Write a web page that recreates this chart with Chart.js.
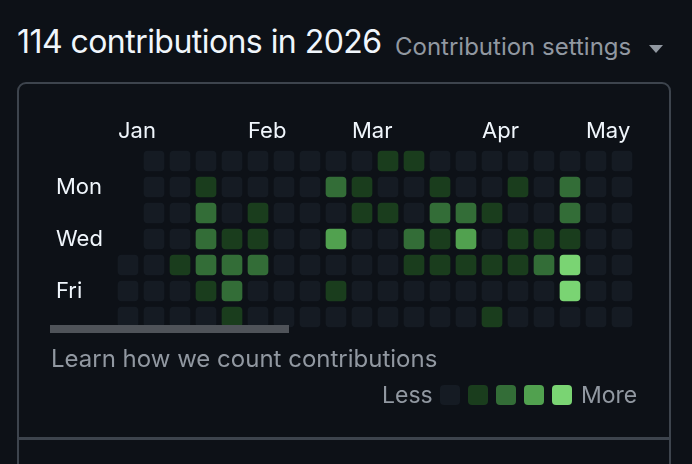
<!DOCTYPE html>
<html>
<head>
<meta charset="utf-8">
<script src="https://cdn.jsdelivr.net/npm/chart.js@4.4.1/dist/chart.umd.min.js"></script>
<style>
  html, body { margin: 0; padding: 0; }
  body { width: 692px; height: 464px; background: #0d1117; overflow: hidden; position: relative; font-family: Inter, "Noto Sans", sans-serif; }
  .abs { position: absolute; white-space: nowrap; line-height: 1; }
  #title { left: 17px; top: 26px; font-size: 32px; letter-spacing: -0.55px; color: #f0f6fc; }
  #settings { left: 395px; top: 35px; font-size: 24px; color: #9198a1; }
  #caret { left: 649px; top: 45px; width: 0; height: 0; border-left: 7px solid transparent; border-right: 7px solid transparent; border-top: 8px solid #9198a1; }
  #box { left: 17px; top: 82px; width: 650px; height: 420px; border: 2px solid #3d444d; border-radius: 9px; }
  #divider { left: 17px; top: 437px; width: 654px; height: 3px; background: #3d444d; }
  #chart { position: absolute; left: 0; top: 0; }
  #scroll { left: 50px; top: 325px; width: 239px; height: 8px; background: #4f5359; }
  #learn { left: 51px; top: 347px; font-size: 24px; color: #9198a1; }
  #less { left: 382px; top: 384px; font-size: 23px; color: #9198a1; }
  #more { left: 581px; top: 384px; font-size: 23px; color: #9198a1; }
  .sw { position: absolute; top: 385px; width: 20px; height: 20px; border-radius: 4px; }
</style>
</head>
<body>
<div id="box" class="abs"></div>
<div id="divider" class="abs"></div>
<div id="title" class="abs">114 contributions in 2026</div>
<div id="settings" class="abs">Contribution settings</div>
<div id="caret" class="abs"></div>
<canvas id="chart" width="692" height="464"></canvas>
<div id="scroll" class="abs"></div>
<div id="learn" class="abs">Learn how we count contributions</div>
<div id="less" class="abs">Less</div>
<div id="legend"></div>
<div id="more" class="abs">More</div>
<script>
// weeks (columns), starting on Sunday
const weeks = [
  "2025-12-28", "2026-01-04", "2026-01-11", "2026-01-18", "2026-01-25",
  "2026-02-01", "2026-02-08", "2026-02-15", "2026-02-22", "2026-03-01",
  "2026-03-08", "2026-03-15", "2026-03-22", "2026-03-29", "2026-04-05",
  "2026-04-12", "2026-04-19", "2026-04-26", "2026-05-03", "2026-05-10",
];
const monthNames = ["Jan", "Feb", "Mar", "Apr", "May"];
const monthCols = [0, 5, 9, 14, 18];
const dayNames = ["Sun", "Mon", "Tue", "Wed", "Thu", "Fri", "Sat"];
const dayLabels = ["", "Mon", "", "Wed", "", "Fri", ""];

// contribution level per day (0-4), null = before Jan 1
const sun = [null, 0, 0, 0, 0, 0, 0, 0, 0, 0, 1, 1, 0, 0, 0, 0, 0, 0, 0, 0];
const mon = [null, 0, 0, 1, 0, 0, 0, 0, 2, 1, 0, 0, 1, 0, 0, 1, 0, 2, 0, 0];
const tue = [null, 0, 0, 2, 0, 1, 0, 0, 0, 1, 1, 0, 2, 2, 1, 0, 0, 2, 0, 0];
const wed = [null, 0, 0, 2, 1, 1, 0, 0, 3, 0, 0, 2, 1, 3, 0, 1, 1, 1, 0, 0];
const thu = [0, 0, 1, 2, 2, 2, 0, 0, 0, 0, 0, 1, 1, 1, 1, 1, 2, 4, 0, 0];
const fri = [0, 0, 0, 1, 2, 0, 0, 0, 1, 0, 0, 0, 0, 0, 0, 0, 0, 4, 0, 0];
const sat = [0, 0, 0, 0, 1, 0, 0, 0, 0, 0, 0, 0, 0, 0, 1, 0, 0, 0, 0, 0];

const levelColors = ["#151b23", "#1a3d1d", "#336d37", "#51a14f", "#7ad473"];

const rows = [sun, mon, tue, wed, thu, fri, sat];
const half = 10 / 26; // cell is 20px in a 26px row

// legend swatches
const legend = document.getElementById("legend");
levelColors.forEach((c, i) => {
  const d = document.createElement("div");
  d.className = "sw";
  d.style.left = 440 + i * 28 + "px";
  d.style.background = c;
  legend.appendChild(d);
});

const labelFont = { family: "Inter", size: 22 };

new Chart(document.getElementById("chart").getContext("2d"), {
  type: "bar",
  data: {
    labels: weeks,
    datasets: rows.map((lv, r) => ({
      label: dayNames[r],
      data: lv.map((v) => (v === null ? null : [r - half, r + half])),
      backgroundColor: lv.map((v) => levelColors[v === null ? 0 : v]),
      grouped: false,
      barThickness: 20,
      borderRadius: 4,
      borderSkipped: false,
    })),
  },
  options: {
    responsive: false,
    animation: false,
    events: [],
    layout: { padding: { left: 56, right: 57, top: 108, bottom: 134 } },
    plugins: { legend: { display: false }, tooltip: { enabled: false } },
    scales: {
      x: {
        position: "top",
        grid: { display: false, drawTicks: false },
        border: { display: false },
        ticks: {
          autoSkip: false,
          maxRotation: 0,
          align: "start",
          labelOffset: -10,
          padding: 3,
          color: "#f0f6fc",
          font: labelFont,
          callback: (v, i) => {
            const k = monthCols.indexOf(i);
            return k >= 0 ? monthNames[k] : "";
          },
        },
        afterFit: (s) => { s.height = 40; },
      },
      y: {
        reverse: true,
        min: -0.5,
        max: 6.5,
        grid: { display: false, drawTicks: false },
        border: { display: false },
        afterBuildTicks: (s) => { s.ticks = dayLabels.map((_, i) => ({ value: i })); },
        ticks: {
          crossAlign: "far",
          color: "#f0f6fc",
          font: labelFont,
          callback: (v) => dayLabels[v],
        },
        afterFit: (s) => { s.width = 59; },
      },
    },
  },
});
</script>
</body>
</html>
